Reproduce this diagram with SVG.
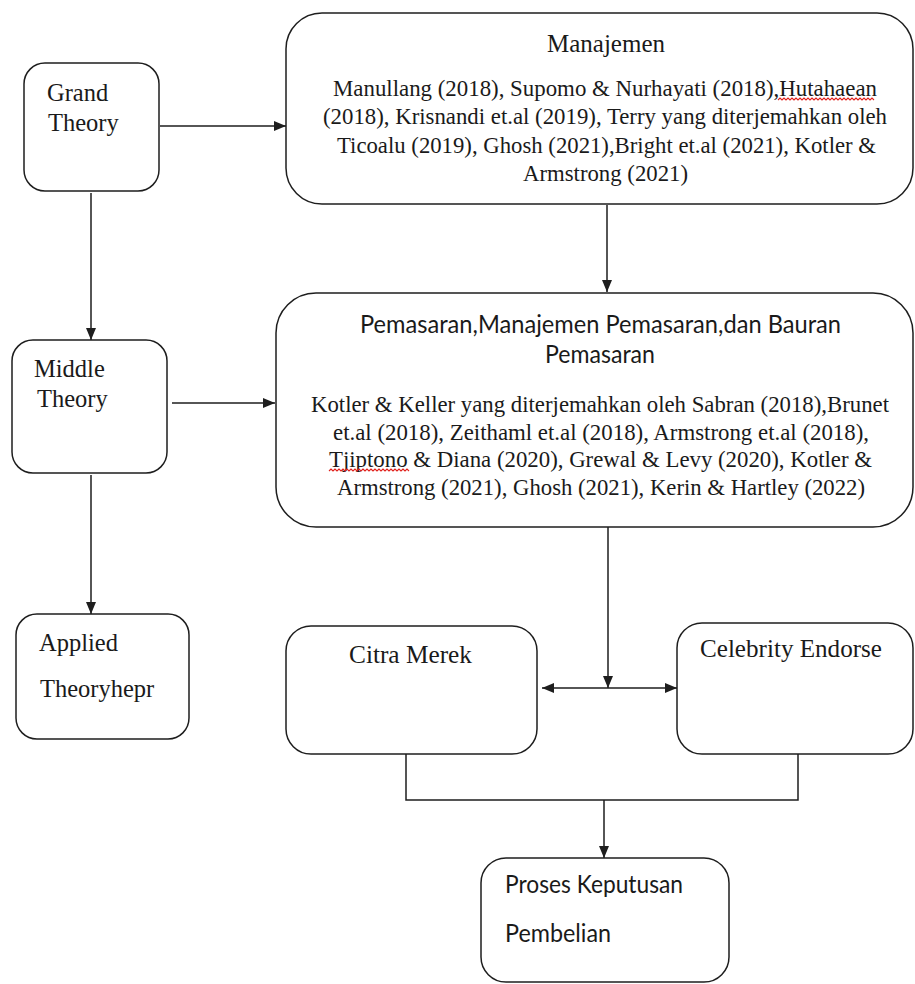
<svg xmlns="http://www.w3.org/2000/svg" width="915" height="984" viewBox="0 0 915 984">
<defs>
<style>
.box{fill:#ffffff;stroke:#1e1e1e;stroke-width:1.5}
.ln{fill:none;stroke:#1e1e1e;stroke-width:1.5}
.serif{font-family:"Liberation Serif","Times New Roman",serif;fill:#1a1a1a}
.sans{font-family:"Lato","Open Sans","Liberation Sans",sans-serif;fill:#1a1a1a}
.big{font-size:24.5px}
.ref{font-size:23px}
.hd{font-size:25px}
.sq{fill:none;stroke:#e0211c;stroke-width:1.1}
</style>
<marker id="ah" viewBox="0 0 12 10" refX="12" refY="5" markerWidth="12" markerHeight="10" markerUnits="userSpaceOnUse" orient="auto-start-reverse">
<path d="M0,0 L12,5 L0,10 Z" fill="#1e1e1e"/>
</marker>
</defs>
<rect width="915" height="984" fill="#ffffff"/>

<g id="connectors">
<line class="ln" x1="160" y1="126" x2="286" y2="126" marker-end="url(#ah)"/>
<line class="ln" x1="91" y1="193" x2="91" y2="340" marker-end="url(#ah)"/>
<line class="ln" x1="607" y1="205" x2="607" y2="292" marker-end="url(#ah)"/>
<line class="ln" x1="172" y1="403" x2="275" y2="403" marker-end="url(#ah)"/>
<line class="ln" x1="91" y1="475" x2="91" y2="614" marker-end="url(#ah)"/>
<line class="ln" x1="608" y1="527" x2="608" y2="688" marker-end="url(#ah)"/>
<line class="ln" x1="542" y1="688" x2="677" y2="688" marker-start="url(#ah)" marker-end="url(#ah)"/>
<polyline class="ln" points="406,754 406,800 798,800 798,754"/>
<line class="ln" x1="604" y1="800" x2="604" y2="858" marker-end="url(#ah)"/>
</g>

<g id="grand-theory">
<rect class="box" x="24" y="63" width="135" height="128" rx="21"/>
<text class="serif big" x="47" y="101">Grand</text>
<text class="serif big" x="48" y="131">Theory</text>
</g>

<g id="manajemen">
<rect class="box" x="286" y="13" width="627" height="191" rx="36"/>
<text class="serif hd" x="547" y="52" textLength="118" lengthAdjust="spacingAndGlyphs">Manajemen</text>
<text class="serif ref" x="333" y="96" textLength="544" lengthAdjust="spacingAndGlyphs">Manullang (2018), Supomo &amp; Nurhayati (2018),Hutahaean</text>
<text class="serif ref" x="323" y="124" textLength="564" lengthAdjust="spacingAndGlyphs">(2018), Krisnandi et.al (2019), Terry yang diterjemahkan oleh</text>
<text class="serif ref" x="337" y="153" textLength="539" lengthAdjust="spacingAndGlyphs">Ticoalu (2019), Ghosh (2021),Bright et.al (2021), Kotler &amp;</text>
<text class="serif ref" x="523" y="181" textLength="165" lengthAdjust="spacingAndGlyphs">Armstrong (2021)</text>
<path class="sq" d="M778,100 l2,-2 l2,2 l2,-2 l2,2 l2,-2 l2,2 l2,-2 l2,2 l2,-2 l2,2 l2,-2 l2,2 l2,-2 l2,2 l2,-2 l2,2 l2,-2 l2,2 l2,-2 l2,2 l2,-2 l2,2 l2,-2 l2,2 l2,-2 l2,2 l2,-2 l2,2 l2,-2 l2,2 l2,-2 l2,2 l2,-2 l2,2 l2,-2 l2,2 l2,-2 l2,2 l2,-2 l2,2 l2,-2 l2,2 l2,-2 l2,2 l2,-2 l2,2 l2,-2 l2,2"/>
</g>

<g id="middle-theory">
<rect class="box" x="12" y="340" width="155" height="133" rx="21"/>
<text class="serif big" x="34" y="377">Middle</text>
<text class="serif big" x="37" y="407">Theory</text>
</g>

<g id="pemasaran">
<rect class="box" x="276" y="293" width="637" height="234" rx="40"/>
<text class="sans hd" x="360" y="333" textLength="481" lengthAdjust="spacingAndGlyphs">Pemasaran,Manajemen Pemasaran,dan Bauran</text>
<text class="sans hd" x="545" y="363" textLength="110" lengthAdjust="spacingAndGlyphs">Pemasaran</text>
<text class="serif ref" x="311" y="412" textLength="578" lengthAdjust="spacingAndGlyphs">Kotler &amp; Keller yang diterjemahkan oleh Sabran (2018),Brunet</text>
<text class="serif ref" x="333" y="440" textLength="536" lengthAdjust="spacingAndGlyphs">et.al (2018), Zeithaml et.al (2018), Armstrong et.al (2018),</text>
<text class="serif ref" x="329" y="467" textLength="543" lengthAdjust="spacingAndGlyphs">Tjiptono &amp; Diana (2020), Grewal &amp; Levy (2020), Kotler &amp;</text>
<text class="serif ref" x="337" y="495" textLength="528" lengthAdjust="spacingAndGlyphs">Armstrong (2021), Ghosh (2021), Kerin &amp; Hartley (2022)</text>
<path class="sq" d="M329,471 l2,-2 l2,2 l2,-2 l2,2 l2,-2 l2,2 l2,-2 l2,2 l2,-2 l2,2 l2,-2 l2,2 l2,-2 l2,2 l2,-2 l2,2 l2,-2 l2,2 l2,-2 l2,2 l2,-2 l2,2 l2,-2 l2,2 l2,-2 l2,2 l2,-2 l2,2 l2,-2 l2,2 l2,-2 l2,2 l2,-2 l2,2 l2,-2 l2,2 l2,-2 l2,2 l2,-2 l2,2"/>
</g>

<g id="applied-theory">
<rect class="box" x="16" y="614" width="173" height="125" rx="21"/>
<text class="serif big" x="39" y="651">Applied</text>
<text class="serif big" x="40" y="697">Theoryhepr</text>
</g>

<g id="citra-merek">
<rect class="box" x="286" y="626" width="251" height="128" rx="25"/>
<text class="serif big" x="349" y="663" textLength="123" lengthAdjust="spacingAndGlyphs">Citra Merek</text>
</g>

<g id="celebrity-endorse">
<rect class="box" x="677" y="623" width="236" height="131" rx="25"/>
<text class="serif big" x="700" y="657" textLength="182" lengthAdjust="spacingAndGlyphs">Celebrity Endorse</text>
</g>

<g id="proses-keputusan">
<rect class="box" x="481" y="858" width="248" height="124" rx="25"/>
<text class="sans hd" x="505" y="893" textLength="178" lengthAdjust="spacingAndGlyphs">Proses Keputusan</text>
<text class="sans hd" x="505" y="942" textLength="106" lengthAdjust="spacingAndGlyphs">Pembelian</text>
</g>
</svg>
